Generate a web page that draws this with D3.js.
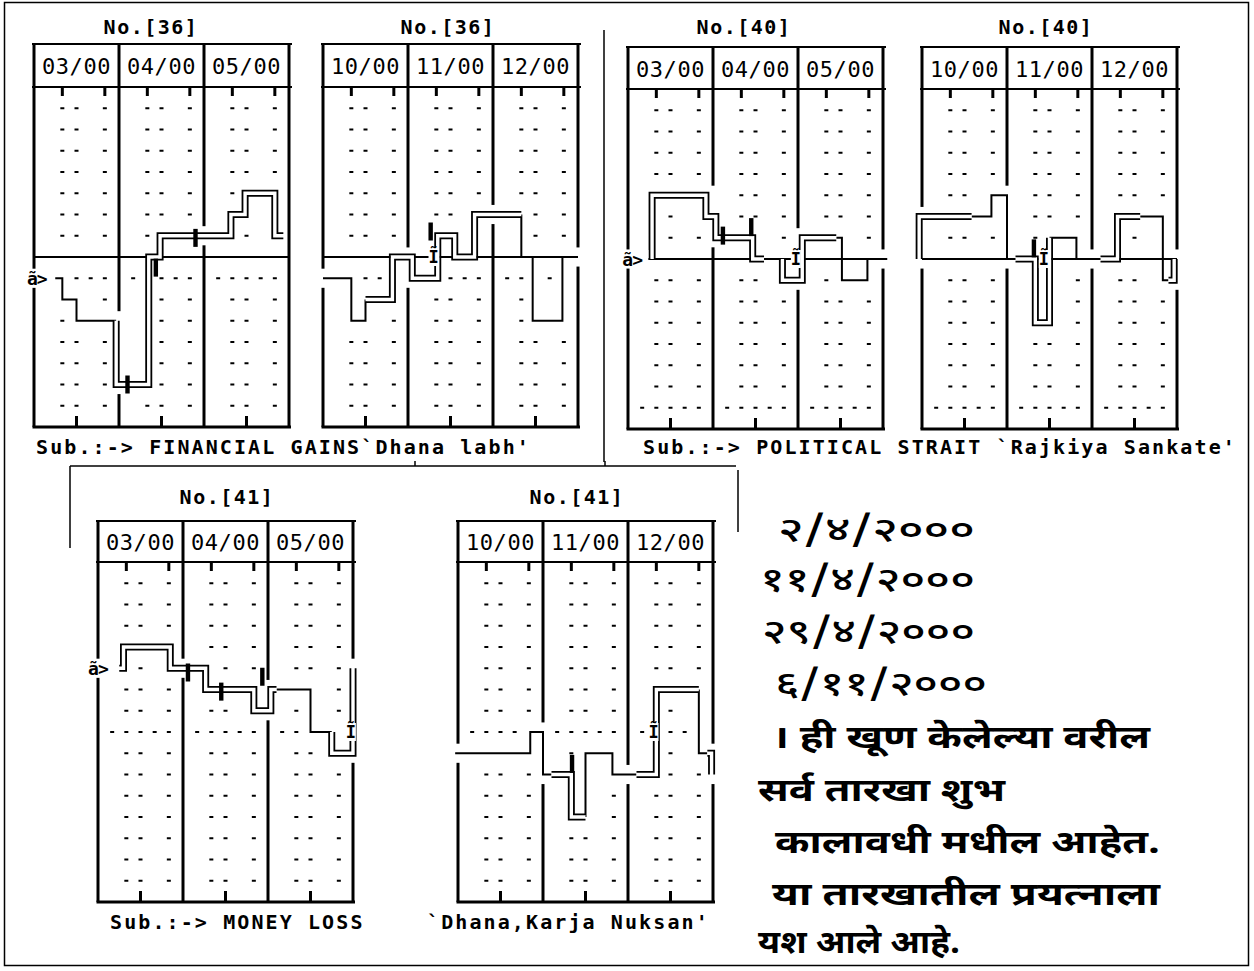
<!DOCTYPE html>
<html><head><meta charset="utf-8">
<script src="https://cdn.jsdelivr.net/npm/d3@7"></script>
<style>body{margin:0;background:#fff}svg{display:block}</style>
</head><body><svg id="c" width="1254" height="971"></svg>
<script>
// ---------------- DATA ----------------
const titles = ["No.[36]","No.[36]","No.[40]","No.[40]","No.[41]","No.[41]"];
const months = [["03/00","04/00","05/00"],["10/00","11/00","12/00"],["03/00","04/00","05/00"],
                ["10/00","11/00","12/00"],["03/00","04/00","05/00"],["10/00","11/00","12/00"]];
const subtitles = ["Sub.:-> FINANCIAL GAINS`Dhana labh'","Sub.:-> POLITICAL STRAIT `Rajkiya Sankate'",
                   "Sub.:-> MONEY LOSS","`Dhana,Karja Nuksan'"];
const rowLevels = [7,6,5,4,3,2,1,0,-1,-2,-3,-4,-5,-6,-7];
const dotCells = [2,3,5];
const fullDotCells = [1,2,3,4,5];
const fullDotRow = [-1,-1,-7,-7,0,0];
const solidBaseline = [true,true,true,true,false,false];
const topTickCells = [2,5];
const bottomTickCells = [3];

// step lines: [cell, level]
const p1Single = [[[1.5,-1],[2,-1],[2,-2],[3,-2],[3,-3],[5.8,-3]]];
const p1Double = [[[5.8,-3],[5.8,-6],[8.1,-6],[8.1,0],[8.9,0],[8.9,1],[13.9,1],[13.9,2],[14.9,2],[14.9,3],[17.0,3],[17.0,1],[17.6,1]]];
const p1Marks = [[6.6,-6],[8.6,-0.5],[11.4,0.9]];
const p1IMarks = [];
const p1Arrows = [[-0.5,-1]];

const p2Single = [[[0,-1],[2,-1],[2,-3],[3,-3],[3,-2]],[[14,2],[14,0],[14.8,0],[14.8,-3],[16.9,-3],[16.9,0],[18,0]]];
const p2Double = [[[3,-2],[4.9,-2],[4.9,0],[6.3,0],[6.3,-1],[8.1,-1],[8.1,1],[9.3,1],[9.3,0],[10.7,0],[10.7,2],[14,2]]];
const p2Marks = [[7.6,1.2]];
const p2IMarks = [[7.8,0]];
const p2Arrows = [];

const p3Single = [[[9.6,0],[10.9,0]],[[14.7,1],[15.1,1],[15.1,-1],[16.9,-1],[16.9,0],[18.3,0]]];
const p3Double = [[[1.7,0],[1.7,3],[5.5,3],[5.5,2],[6.2,2],[6.2,1],[8.8,1],[8.8,0],[9.6,0]],
                  [[10.9,0],[10.9,-1],[12.3,-1],[12.3,1],[14.7,1]]];
const p3Marks = [[6.7,1.1],[8.7,1.5]];
const p3IMarks = [[11.85,0]];
const p3Arrows = [[-0.4,0]];

const p4Single = [[[3.5,2],[4.9,2],[4.9,3],[6.0,3],[6.0,0],[6.6,0]],[[9.0,1],[10.9,1],[10.9,0],[12.6,0]],
                  [[15.4,2],[17.0,2],[17.0,-1],[17.4,-1]]];
const p4Double = [[[-0.2,0],[-0.2,2],[3.5,2]],[[6.6,0],[8.0,0],[8.0,-3],[9.0,-3],[9.0,1]],
                  [[12.6,0],[13.8,0],[13.8,2],[15.4,2]],[[17.4,-1],[17.8,-1],[17.8,0]]];
const p4Marks = [[7.9,0.5]];
const p4IMarks = [[8.6,0]];
const p4Arrows = [];

const p5Single = [[[12.6,2],[15.0,2],[15.0,0],[16.5,0]]];
const p5Double = [[[1.5,3],[1.8,3],[1.8,4],[5.1,4],[5.1,3],[7.6,3],[7.6,2],[11.0,2],[11.0,1],[12.2,1],[12.2,2],[12.6,2]],
                  [[16.5,0],[16.5,-1],[18.0,-1],[18.0,3]]];
const p5Marks = [[6.35,2.8],[8.7,1.9],[11.6,2.6]];
const p5IMarks = [[17.85,0]];
const p5Arrows = [[-0.7,3]];

const p6Single = [[[-0.2,-1],[5.1,-1],[5.1,0],[6.0,0],[6.0,-2],[6.6,-2]],[[9.0,-4],[9.0,-1],[10.9,-1],[10.9,-2],[12.6,-2]],
                  [[17.0,2],[17.0,-1],[17.6,-1]]];
const p6Double = [[[6.6,-2],[8.0,-2],[8.0,-4],[9.0,-4]],[[12.6,-2],[14.0,-2],[14.0,2],[17.0,2]],[[17.6,-1],[17.9,-1],[17.9,-2]]];
const p6Marks = [[8.05,-1.5]];
const p6IMarks = [[13.8,0]];
const p6Arrows = [];

const noteLines = ["२/४/२०००","११/४/२०००","२९/४/२०००","६/११/२०००",
  "। ही खूण केलेल्या वरील","सर्व तारखा शुभ","कालावधी मधील आहेत.","या तारखातील प्रयत्नाला","यश आले आहे."];

// ---------------- LAYOUT ----------------
const panelSingles=[p1Single,p2Single,p3Single,p4Single,p5Single,p6Single];
const panelDoubles=[p1Double,p2Double,p3Double,p4Double,p5Double,p6Double];
const panelMarks=[p1Marks,p2Marks,p3Marks,p4Marks,p5Marks,p6Marks];
const panelIMarks=[p1IMarks,p2IMarks,p3IMarks,p4IMarks,p5IMarks,p6IMarks];
const panelArrows=[p1Arrows,p2Arrows,p3Arrows,p4Arrows,p5Arrows,p6Arrows];
const layout = [
  {left:34, top:44, hb:87, tx:151, ty:27},
  {left:323,top:44, hb:87, tx:448, ty:27},
  {left:628,top:47, hb:89, tx:744, ty:27},
  {left:922,top:47, hb:89, tx:1046,ty:27},
  {left:98, top:521,hb:562,tx:227, ty:497},
  {left:458,top:521,hb:562,tx:577, ty:497}
];
const subLayout=[{x:36,y:447},{x:643,y:447},{x:110,y:922},{x:427,y:922}];
const noteLayout=[{x:778,y:533,w:197},{x:760,y:583,w:215},{x:762,y:635,w:213},{x:775,y:687,w:212},
  {x:772,y:740,w:378},{x:758,y:793,w:247},{x:775,y:845,w:385},{x:772,y:897,w:388},{x:758,y:945,w:202}];
const MONO="'DejaVu Sans Mono','Liberation Mono',monospace";

const svg=d3.select('#c');
svg.append('rect').attr('width',1254).attr('height',971).attr('fill','#fff');
// outer frame and separators
svg.append('rect').attr('x',4.5).attr('y',2.5).attr('width',1244).attr('height',963)
  .attr('fill','none').attr('stroke','#000').attr('stroke-width',1.5);
const sep=[[604,30,604,462],[70,466,736,466],[70,466,70,548],[738,470,738,532],[415,461,415,466],[605,461,605,466]];
svg.selectAll('.sep').data(sep).join('line').attr('x1',d=>d[0]).attr('y1',d=>d[1]).attr('x2',d=>d[2]).attr('y2',d=>d[3])
  .attr('stroke','#000').attr('stroke-width',1.5);

function offsetPts(pts,d){
  const n=pts.length,out=[];
  const nrm=(a,b)=>{const dx=b[0]-a[0],dy=b[1]-a[1],l=Math.hypot(dx,dy)||1;return[-dy/l,dx/l];};
  for(let i=0;i<n;i++){
    const ni=i>0?nrm(pts[i-1],pts[i]):null, no=i<n-1?nrm(pts[i],pts[i+1]):null;
    let v;
    if(!ni)v=no;else if(!no)v=ni;
    else if(Math.abs(ni[0]*no[0]+ni[1]*no[1])>0.5)v=ni;
    else v=[ni[0]+no[0],ni[1]+no[1]];
    out.push([pts[i][0]+d*v[0],pts[i][1]+d*v[1]]);
  }
  return out;
}

layout.forEach((L,i)=>{
  const g=svg.append('g');
  const x=d3.scaleLinear().domain([0,18]).range([L.left,L.left+255]);
  const y=d3.scaleLinear().domain([8,-8]).range([L.hb,L.hb+340]);
  const singles=panelSingles[i],doubles=panelDoubles[i];
  const polys=singles.concat(doubles);
  const segs=[];
  polys.forEach(p=>{for(let k=0;k<p.length-1;k++)segs.push([p[k],p[k+1]]);});
  const arrows=panelArrows[i], imarks=panelIMarks[i], marks=panelMarks[i];

  // title
  g.append('text').attr('x',L.tx).attr('y',L.ty).attr('text-anchor','middle').attr('dominant-baseline','central')
    .attr('font-family',MONO).attr('font-weight','bold').attr('font-size',20).attr('letter-spacing',1.5).text(titles[i]);
  // header
  [L.top,L.hb].forEach(yy=>g.append('line').attr('x1',x(0)-2).attr('x2',x(18)+3).attr('y1',yy).attr('y2',yy)
    .attr('stroke','#000').attr('stroke-width',2));
  g.selectAll('.m').data(months[i]).join('text').attr('x',(d,m)=>x(m*6+3)).attr('y',(L.top+L.hb)/2+1)
    .attr('text-anchor','middle').attr('dominant-baseline','central').attr('font-family',MONO)
    .attr('font-size',22).attr('letter-spacing',0.6).text(d=>d);
  // dots
  const near=(u,v,tol)=>segs.some(([a,b])=>{
    if(a[1]===b[1]){const lo=Math.min(a[0],b[0]),hi=Math.max(a[0],b[0]);return Math.abs(v-a[1])<tol&&u>=lo-tol&&u<=hi+tol;}
    const lo=Math.min(a[1],b[1]),hi=Math.max(a[1],b[1]);return Math.abs(u-a[0])<tol&&v>=lo-tol&&v<=hi+tol;});
  const dots=[];
  rowLevels.forEach(v=>{
    if(v===0&&solidBaseline[i])return;
    const cells=v===fullDotRow[i]?fullDotCells:dotCells;
    [0,1,2].forEach(m=>cells.forEach(c=>{
      const u=m*6+c;
      if(near(u,v,0.5))return;
      if(arrows.some(a=>v===a[1]&&u>=a[0]-0.3&&u<=a[0]+2))return;
      dots.push([u,v]);}));
  });
  g.selectAll('.dot').data(dots).join('rect').attr('x',d=>x(d[0])-2).attr('y',d=>y(d[1])-1).attr('width',4).attr('height',2).attr('fill','#000');
  // baseline
  if(solidBaseline[i]) g.append('line').attr('x1',x(0)).attr('x2',x(18)).attr('y1',y(0)).attr('y2',y(0)).attr('stroke','#000').attr('stroke-width',2);
  // column borders with gaps where the step line crosses
  [0,6,12,18].forEach(uB=>{
    g.append('line').attr('x1',x(uB)).attr('x2',x(uB)).attr('y1',L.top-1).attr('y2',L.hb).attr('stroke','#000').attr('stroke-width',3);
    let gaps=[];
    segs.forEach(([a,b])=>{
      if(a[1]===b[1]){const lo=Math.min(a[0],b[0]),hi=Math.max(a[0],b[0]);if(uB>=lo-0.35&&uB<=hi+0.35)gaps.push([a[1]-0.45,a[1]+0.45]);}
      else if(Math.abs(a[0]-uB)<0.6)gaps.push([Math.min(a[1],b[1])-0.45,Math.max(a[1],b[1])+0.45]);
    });
    if(uB===0)arrows.forEach(a=>gaps.push([a[1]-0.45,a[1]+0.45]));
    gaps.sort((p,q)=>q[1]-p[1]);
    let cur=8;const pieces=[];
    gaps.forEach(gp=>{if(gp[1]<cur){if(cur-gp[1]>0.05)pieces.push([cur,gp[1]]);}cur=Math.min(cur,gp[0]);});
    if(cur>-8)pieces.push([cur,-8]);
    g.selectAll(null).data(pieces).join('line').attr('x1',x(uB)).attr('x2',x(uB)).attr('y1',d=>y(d[0])).attr('y2',d=>y(d[1]))
      .attr('stroke','#000').attr('stroke-width',3);
  });
  // bottom line and ticks
  g.append('line').attr('x1',x(0)-1.5).attr('x2',x(18)+2).attr('y1',y(-8)).attr('y2',y(-8)).attr('stroke','#000').attr('stroke-width',3);
  [0,1,2].forEach(m=>{
    topTickCells.forEach(c=>g.append('line').attr('x1',x(m*6+c)).attr('x2',x(m*6+c)).attr('y1',L.hb).attr('y2',L.hb+9).attr('stroke','#000').attr('stroke-width',3));
    bottomTickCells.forEach(c=>g.append('line').attr('x1',x(m*6+c)).attr('x2',x(m*6+c)).attr('y1',y(-8)-11).attr('y2',y(-8)).attr('stroke','#000').attr('stroke-width',3));
  });
  // step lines
  const line=d3.line().x(d=>x(d[0])).y(d=>y(d[1]));
  g.selectAll('.s').data(singles).join('path').attr('d',line).attr('fill','none').attr('stroke','#000').attr('stroke-width',2);
  g.selectAll('.du').data(doubles).join('path').attr('d',line).attr('fill','none').attr('stroke','#fff').attr('stroke-width',4);
  const pxLine=d3.line();
  doubles.forEach(p=>{
    const px=p.map(d=>[x(d[0]),y(d[1])]);
    [-2.6,2.6].forEach(o=>g.append('path').attr('d',pxLine(offsetPts(px,o))).attr('fill','none').attr('stroke','#000').attr('stroke-width',1.8));
  });
  // thick marks
  g.selectAll('.mk').data(marks).join('rect').attr('x',d=>x(d[0])-2.2).attr('y',d=>y(d[1])-9).attr('width',4.4).attr('height',18).attr('fill','#000');
  // I markers
  imarks.forEach(d=>{
    g.append('rect').attr('x',x(d[0])-5).attr('y',y(d[1])-9).attr('width',10).attr('height',18).attr('fill','#fff');
    g.append('text').attr('x',x(d[0])).attr('y',y(d[1])).attr('text-anchor','middle').attr('dominant-baseline','central')
      .attr('font-family',MONO).attr('font-weight','bold').attr('font-size',17).text('Ĩ');
  });
  arrows.forEach(d=>{
    g.append('rect').attr('x',x(d[0])).attr('y',y(d[1])-9).attr('width',26).attr('height',18).attr('fill','#fff');
    g.append('text').attr('x',x(d[0])).attr('y',y(d[1])).attr('dominant-baseline','central')
      .attr('font-family',MONO).attr('font-weight','bold').attr('font-size',18).attr('letter-spacing',-1).text('ã>');
  });
});

// subtitles
svg.selectAll('.sub').data(subtitles).join('text').attr('x',(d,k)=>subLayout[k].x).attr('y',(d,k)=>subLayout[k].y)
  .attr('dominant-baseline','central').attr('font-family',MONO).attr('font-weight','bold').attr('font-size',20).attr('letter-spacing',2.1).text(d=>d);

// Marathi note
svg.selectAll('.note').data(noteLines).join('text').attr('x',(d,k)=>noteLayout[k].x).attr('y',(d,k)=>noteLayout[k].y)
  .attr('dominant-baseline','central').attr('font-family',"'Noto Sans Devanagari','Lohit Devanagari','Noto Sans',sans-serif")
  .attr('font-weight',(d,k)=>k<4?500:700).attr('font-size',(d,k)=>k<4?34:32)
  .attr('textLength',(d,k)=>noteLayout[k].w).attr('lengthAdjust','spacingAndGlyphs').text(d=>d);
</script></body></html>
